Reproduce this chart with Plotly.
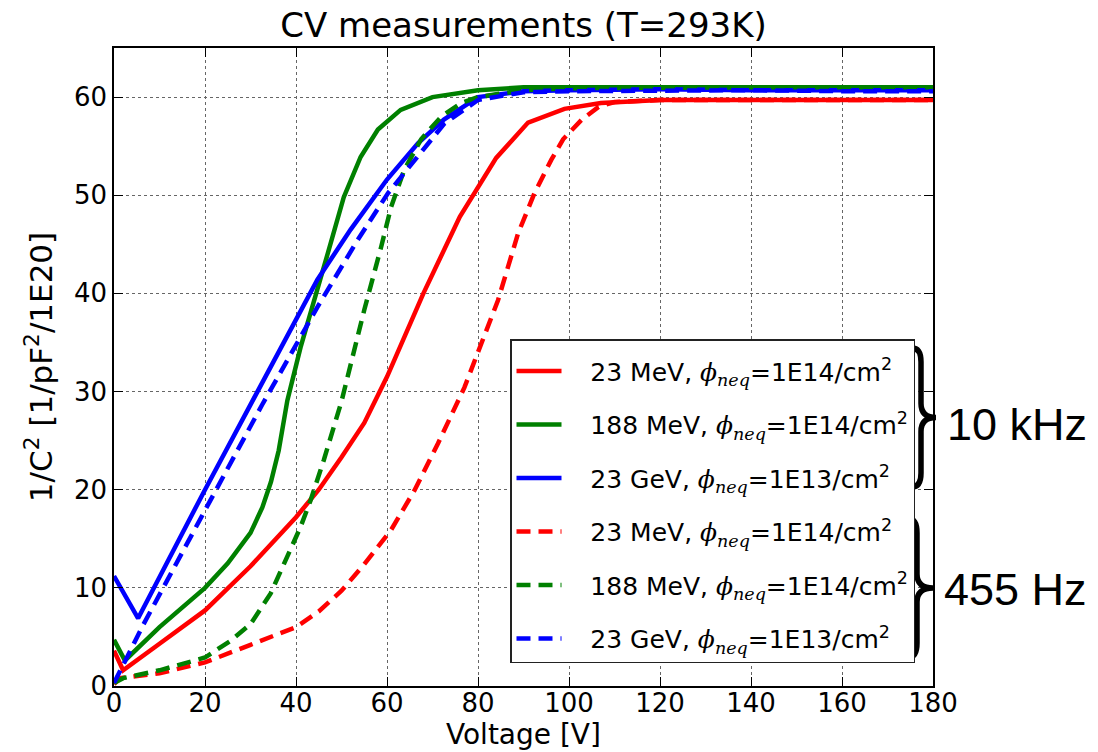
import plotly.graph_objects as go

# ---- measured 1/C^2 curves (voltage in V, 1/C^2 in 1/pF^2/1E20) ----
v_23mev_10k = [0, 2, 10, 20, 30, 40, 45, 50, 55, 60, 68, 76, 84, 91, 99, 107, 120, 140, 160, 180]
c_23mev_10k = [3.6, 1.6, 4.3, 7.7, 12.2, 17.2, 20.0, 23.3, 26.8, 31.5, 40.0, 47.8, 53.8, 57.4, 58.8, 59.4, 59.7, 59.7, 59.7, 59.7]

v_188mev_10k = [0, 2.4, 10, 20, 25, 30, 32.6, 34.5, 36.2, 38.1, 41, 44.3, 47, 50.5, 54.2, 58, 63, 70, 80, 90, 100, 120, 140, 160, 180]
c_188mev_10k = [4.7, 2.6, 6.0, 10.0, 12.5, 15.6, 18.2, 20.8, 24.0, 29.1, 34.5, 40.0, 44.1, 49.8, 53.9, 56.7, 58.7, 60.0, 60.7, 61.0, 61.0, 61.1, 61.0, 61.0, 61.0]

v_23gev_10k = [0, 5.3, 20, 30.7, 44.7, 52, 60, 66.8, 72.5, 80, 90, 100, 120, 140, 160, 180]
c_23gev_10k = [11.2, 6.9, 20.0, 29.3, 41.4, 46.5, 51.6, 55.3, 57.7, 60.0, 60.6, 60.7, 60.8, 60.7, 60.7, 60.7]

v_23mev_455 = [0, 1.3, 10, 20, 30, 40, 45, 50, 55, 60.9, 66, 71.2, 77, 80.7, 84.4, 88.8, 92.4, 96.1, 98.7, 102.8, 106.5, 110, 120, 140, 160, 180]
c_23mev_455 = [0.2, 0.8, 1.3, 2.4, 4.2, 6.0, 7.6, 9.7, 12.4, 15.9, 19.9, 24.7, 30.4, 34.7, 39.3, 46.1, 50.2, 53.6, 55.7, 57.7, 59.0, 59.5, 59.7, 59.7, 59.7, 59.7]

v_188mev_455 = [0, 2, 10, 20, 25.6, 30, 34.4, 38.1, 41, 43.2, 46.1, 50, 55, 58.7, 60.9, 63.8, 67.5, 71.9, 76.3, 80, 90, 100, 120, 140, 160, 180]
c_188mev_455 = [0.3, 0.8, 1.6, 2.9, 4.6, 6.3, 9.4, 13.1, 16.2, 18.9, 23.0, 29.0, 38.3, 44.7, 48.8, 52.6, 55.7, 58.0, 59.4, 60.0, 60.7, 60.9, 61.0, 61.0, 61.0, 61.0]

v_23gev_455 = [0, 2.8, 6.5, 20, 32.5, 44.7, 53.5, 60.2, 66.8, 72.6, 80, 90, 100, 120, 140, 160, 180]
c_23gev_455 = [0.3, 2.9, 6.3, 17.9, 28.6, 38.6, 45.4, 50.2, 53.9, 57.3, 59.7, 60.5, 60.6, 60.7, 60.7, 60.6, 60.6]

x_ticks = [0, 20, 40, 60, 80, 100, 120, 140, 160, 180]
y_ticks = [0, 10, 20, 30, 40, 50, 60]

PHI = "<span style=\"font-family:'DejaVu Serif'\"><i>\u03d5</i><sub><i>neq</i></sub></span>"
PAD = "\u00a0" * 3
labels = [
    f"{PAD}23 MeV, {PHI}=1E14/cm<sup>2</sup>",
    f"{PAD}188 MeV, {PHI}=1E14/cm<sup>2</sup>",
    f"{PAD}23 GeV, {PHI}=1E13/cm<sup>2</sup>",
]

RED, GREEN, BLUE = "#ff0000", "#008000", "#0000ff"
series = [
    (v_23mev_10k, c_23mev_10k, RED, "solid", labels[0]),
    (v_188mev_10k, c_188mev_10k, GREEN, "solid", labels[1]),
    (v_23gev_10k, c_23gev_10k, BLUE, "solid", labels[2]),
    (v_23mev_455, c_23mev_455, RED, "14px,8px", labels[0]),
    (v_188mev_455, c_188mev_455, GREEN, "14px,8px", labels[1]),
    (v_23gev_455, c_23gev_455, BLUE, "14px,8px", labels[2]),
]

fig = go.Figure()
for i, (xs, ys, col, dash, name) in enumerate(series):
    fig.add_trace(go.Scatter(
        x=xs, y=ys, mode="lines", name=name, legendgroup=f"g{i}",
        line=dict(color=col, width=4.5, dash=dash),
    ))

W, H = 1098, 752
ML, MR, MT, MB = 114, 165, 48, 66
PW, PH = W - ML - MR, H - MT - MB


def px(xp, yp):
    """pixel position -> paper coordinates"""
    return (xp - ML) / PW, (H - MB - yp) / PH


def brace(xl, xb, xt, top, bot):
    mid = (top + bot) / 2
    pts = [
        ("M", [(xl, top)]),
        ("Q", [(xb, top), (xb, top + 14)]),
        ("L", [(xb, mid - 14)]),
        ("Q", [(xb, mid), (xt, mid)]),
        ("Q", [(xb, mid), (xb, mid + 14)]),
        ("L", [(xb, bot - 14)]),
        ("Q", [(xb, bot), (xl, bot)]),
    ]
    out = []
    for cmd, coords in pts:
        s = " ".join("%.5f,%.5f" % px(a, b) for a, b in coords)
        out.append(cmd + s)
    return " ".join(out)


shapes = [
    dict(type="path", xref="paper", yref="paper", path=brace(912, 921, 936, 348, 487),
         line=dict(color="black", width=5.5)),
    dict(type="path", xref="paper", yref="paper", path=brace(909, 917, 933, 519, 657),
         line=dict(color="black", width=5.5)),
]

ax_common = dict(
    showline=True, linecolor="black", linewidth=1.5, mirror="ticks",
    ticks="inside", ticklen=9, tickcolor="black", tickwidth=1,
    showgrid=True, gridcolor="#666666", gridwidth=1, griddash="dot",
    zeroline=False, tickfont=dict(size=26, color="black"), automargin=False,
)

fig.update_layout(
    width=W, height=H,
    margin=dict(l=ML, r=MR, t=MT, b=MB),
    paper_bgcolor="white", plot_bgcolor="white",
    font=dict(family="DejaVu Sans", color="black"),
    title=dict(text="CV measurements (T=293K)", x=0.5, xref="paper",
               y=1 - 25 / H, yref="container", yanchor="middle",
               font=dict(size=34, color="black")),
    xaxis=dict(range=[0, 180], tickvals=x_ticks, ticklabelstandoff=-7, **ax_common),
    yaxis=dict(range=[0, 65], tickvals=y_ticks,
               title=dict(text="1/C<sup>2</sup> [1/pF<sup>2</sup>/1E20]", font=dict(size=31), standoff=12),
               **ax_common),
    legend=dict(x=px(510, 339)[0], y=px(510, 339)[1], xanchor="left", yanchor="top",
                bgcolor="white", bordercolor="#222222", borderwidth=1.5,
                font=dict(size=25, color="black"), tracegroupgap=18,
                itemwidth=45,
                title=dict(text=" ", font=dict(size=6))),
    shapes=shapes,
    annotations=[
        dict(text="Voltage [V]", xref="paper", yref="paper", x=0.5, y=px(0, 735)[1],
             showarrow=False, font=dict(size=28, color="black"),
             xanchor="center", yanchor="middle"),
        dict(text="10 kHz", xref="paper", yref="paper", x=px(1017, 424)[0], y=px(1017, 424)[1],
             showarrow=False, font=dict(family="Liberation Sans", size=45, color="black"),
             xanchor="center", yanchor="middle"),
        dict(text="455 Hz", xref="paper", yref="paper", x=px(1015, 589)[0], y=px(1015, 589)[1],
             showarrow=False, font=dict(family="Liberation Sans", size=45, color="black"),
             xanchor="center", yanchor="middle"),
    ],
)

fig.write_html("out.html")
